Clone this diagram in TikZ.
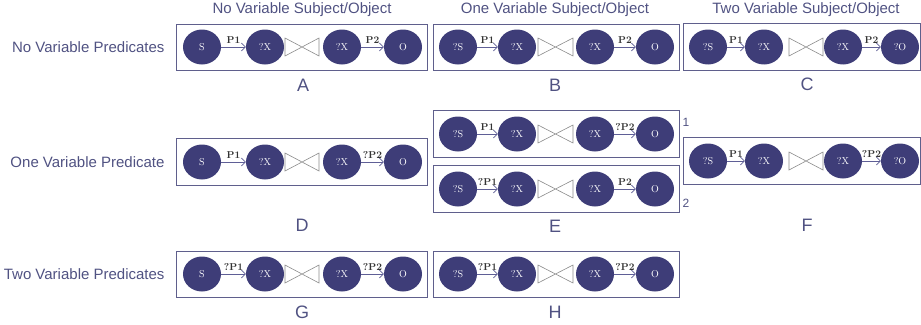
\documentclass[tikz,border=0pt]{standalone}
\usepackage{fontspec}
\setsansfont{Liberation Sans}
\usepackage{tikz}
\usetikzlibrary{shapes.geometric}
\usetikzlibrary{arrows.meta}
\definecolor{txtblue}{RGB}{80,82,130}
\definecolor{nodeblue}{RGB}{62,61,120}
\definecolor{boxline}{RGB}{95,95,140}
\definecolor{arrowblue}{RGB}{95,95,150}

\begin{document}
\begin{tikzpicture}[-,auto,x=1pt,y=-1pt]
\tikzstyle{vertex}=[ellipse,fill=nodeblue,text=white,minimum width=38pt,minimum height=35pt,inner sep=0pt,font=\fontsize{10}{12}\selectfont]
\tikzstyle{panel}=[draw=boxline,line width=1pt]
\tikzstyle{bowtie}=[draw=gray!90,line width=0.6pt,fill=white]
\tikzstyle{pred}=[-{Straight Barb[length=4pt,width=8pt]},draw=arrowblue,line width=0.6pt]
\tikzstyle{plabel}=[font=\fontsize{10}{12}\selectfont\bfseries,text=black!80,inner sep=1pt]
\tikzstyle{heading}=[font=\sffamily\fontsize{15}{18}\selectfont,text=txtblue]
\tikzstyle{tag}=[font=\sffamily\fontsize{18}{21}\selectfont,text=txtblue]

\useasboundingbox (0,0) rectangle (921,324);

% column and row headings
\node [heading] (h1) at(302,10) {No Variable Subject/Object};
\node [heading] (h2) at(555,10) {One Variable Subject/Object};
\node [heading] (h3) at(806,10) {Two Variable Subject/Object};
\node [heading,anchor=east] (r1) at(168,47) {No Variable Predicates};
\node [heading,anchor=east] (r2) at(168,162) {One Variable Predicate};
\node [heading,anchor=east] (r3) at(168,274) {Two Variable Predicates};

% A
\draw [panel] (176,24) rectangle (427,70);
\node [vertex] (a1) at(202,47) {S};
\node [vertex] (a2) at(265,47) {?X};
\node [vertex] (a3) at(342,47) {?X};
\node [vertex] (a4) at(403,47) {O};
\draw [bowtie] (285,38) -- (285,56) -- (319,38) -- (319,56) -- cycle;
\path (a1) edge[pred] node[plabel,above=2pt] {P1} (a2);
\path (a3) edge[pred] node[plabel,above=2pt] {P2} (a4);
\node [tag] (la) at(303,85) {A};

% B
\draw [panel] (433,24) rectangle (679,70);
\node [vertex] (b1) at(458,47) {?S};
\node [vertex] (b2) at(517,47) {?X};
\node [vertex] (b3) at(595,47) {?X};
\node [vertex] (b4) at(655,47) {O};
\draw [bowtie] (538,38) -- (538,56) -- (573,38) -- (573,56) -- cycle;
\path (b1) edge[pred] node[plabel,above=2pt] {P1} (b2);
\path (b3) edge[pred] node[plabel,above=2pt] {P2} (b4);
\node [tag] (lb) at(555,85) {B};

% C
\draw [panel] (683,23) rectangle (920,70);
\node [vertex] (c1) at(708,47) {?S};
\node [vertex] (c2) at(764,47) {?X};
\node [vertex] (c3) at(843,47) {?X};
\node [vertex] (c4) at(900,47) {?O};
\draw [bowtie] (789,38) -- (789,56) -- (823,38) -- (823,56) -- cycle;
\path (c1) edge[pred] node[plabel,above=2pt] {P1} (c2);
\path (c3) edge[pred] node[plabel,above=2pt] {P2} (c4);
\node [tag] (lc) at(807,84) {C};

% D
\draw [panel] (176,138) rectangle (427,185);
\node [vertex] (d1) at(202,162) {S};
\node [vertex] (d2) at(265,162) {?X};
\node [vertex] (d3) at(342,162) {?X};
\node [vertex] (d4) at(403,162) {O};
\draw [bowtie] (285,153) -- (285,171) -- (319,153) -- (319,171) -- cycle;
\path (d1) edge[pred] node[plabel,above=2pt] {P1} (d2);
\path (d3) edge[pred] node[plabel,above=2pt] {?P2} (d4);
\node [tag] (ld) at(302,225) {D};

% E, case 1
\draw [panel] (433,110) rectangle (679,157);
\node [vertex] (e1) at(458,134) {?S};
\node [vertex] (e2) at(517,134) {?X};
\node [vertex] (e3) at(595,134) {?X};
\node [vertex] (e4) at(655,134) {O};
\draw [bowtie] (538,125) -- (538,143) -- (573,125) -- (573,143) -- cycle;
\path (e1) edge[pred] node[plabel,above=2pt] {P1} (e2);
\path (e3) edge[pred] node[plabel,above=2pt] {?P2} (e4);
\node [heading,font=\sffamily\fontsize{12}{14}\selectfont] (n1) at(686,122) {1};

% E, case 2
\draw [panel] (433,165) rectangle (679,212);
\node [vertex] (e5) at(458,189) {?S};
\node [vertex] (e6) at(517,189) {?X};
\node [vertex] (e7) at(595,189) {?X};
\node [vertex] (e8) at(655,189) {O};
\draw [bowtie] (538,180) -- (538,198) -- (573,180) -- (573,198) -- cycle;
\path (e5) edge[pred] node[plabel,above=2pt] {?P1} (e6);
\path (e7) edge[pred] node[plabel,above=2pt] {P2} (e8);
\node [heading,font=\sffamily\fontsize{12}{14}\selectfont] (n2) at(686,203) {2};
\node [tag] (le) at(555,226) {E};

% F
\draw [panel] (683,137) rectangle (920,184);
\node [vertex] (f1) at(708,161) {?S};
\node [vertex] (f2) at(764,161) {?X};
\node [vertex] (f3) at(843,161) {?X};
\node [vertex] (f4) at(900,161) {?O};
\draw [bowtie] (789,152) -- (789,170) -- (823,152) -- (823,170) -- cycle;
\path (f1) edge[pred] node[plabel,above=2pt] {P1} (f2);
\path (f3) edge[pred] node[plabel,above=2pt] {?P2} (f4);
\node [tag] (lf) at(807,225) {F};

% G
\draw [panel] (176,251) rectangle (427,297);
\node [vertex] (g1) at(202,274) {S};
\node [vertex] (g2) at(265,274) {?X};
\node [vertex] (g3) at(342,274) {?X};
\node [vertex] (g4) at(403,274) {O};
\draw [bowtie] (285,265) -- (285,283) -- (319,265) -- (319,283) -- cycle;
\path (g1) edge[pred] node[plabel,above=2pt] {?P1} (g2);
\path (g3) edge[pred] node[plabel,above=2pt] {?P2} (g4);
\node [tag] (lg) at(302,312) {G};

% H
\draw [panel] (433,251) rectangle (679,297);
\node [vertex] (h5) at(458,274) {?S};
\node [vertex] (h6) at(517,274) {?X};
\node [vertex] (h7) at(595,274) {?X};
\node [vertex] (h8) at(655,274) {O};
\draw [bowtie] (538,265) -- (538,283) -- (573,265) -- (573,283) -- cycle;
\path (h5) edge[pred] node[plabel,above=2pt] {?P1} (h6);
\path (h7) edge[pred] node[plabel,above=2pt] {?P2} (h8);
\node [tag] (lh) at(555,312) {H};
\end{tikzpicture}
\end{document}
